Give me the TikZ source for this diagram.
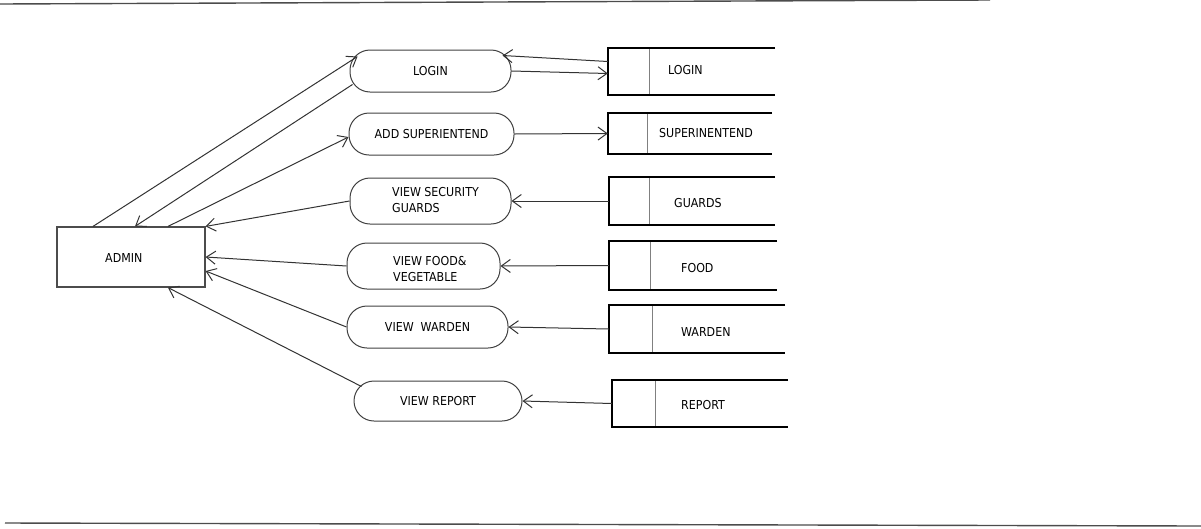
\documentclass[tikz,border=0pt]{standalone}
\usepackage{fontspec}
\setmainfont{DejaVu Sans Condensed}
\usetikzlibrary{arrows.meta,calc}
\tikzset{
  flow/.style={draw=black!80, line width=1pt, -{Straight Barb[length=9pt,width=13pt,line width=1pt]}},
  proc/.style={draw=black!75, line width=1pt, rounded corners=20pt, inner sep=0pt, align=left},
  entity/.style={draw=black!70, line width=1.2pt, inner sep=0pt},
  storebox/.style={inner sep=0pt},
  storeedge/.style={draw=black, line width=2pt},
  storediv/.style={draw=black!50, line width=1.2pt},
  lbl/.style={inner sep=0pt, anchor=west},
  rule/.style={draw=black!70, line width=1.4pt}
}
\begin{document}
\begin{tikzpicture}[x=1pt,y=-1pt,font=\fontsize{12.3}{16}\selectfont]
\useasboundingbox (0,0) rectangle (1201,528);
% page rules
\draw[rule] (0,4) -- (990,0);
\draw[rule] (5,523) -- (1201,526);

% external entity
\node[entity, minimum width=148pt, minimum height=60pt] (admin) at (131,257) {};
\node[lbl] (admintxt) at (105,258) {ADMIN};

% processes
\node[proc, minimum width=161pt, minimum height=42pt] (login) at (430.5,71) {LOGIN};
\node[proc, minimum width=165pt, minimum height=42pt] (addsup) at (431.5,134) {ADD SUPERIENTEND};
\node[proc, minimum width=161pt, minimum height=46pt] (viewsec) at (430.5,201) {};
\node[lbl, align=left] (viewsectxt) at (392,200.5) {VIEW SECURITY\\GUARDS};
\node[proc, minimum width=153pt, minimum height=46pt] (viewfood) at (423.5,266) {};
\node[lbl, align=left] (viewfoodtxt) at (393,269.5) {VIEW FOOD\&\\VEGETABLE};
\node[proc, minimum width=161pt, minimum height=42pt] (viewward) at (427.5,327) {VIEW\ \ WARDEN};
\node[proc, minimum width=168pt, minimum height=40pt] (viewrep) at (438,401) {VIEW REPORT};

% data stores
\node[storebox, minimum width=167pt, minimum height=47pt] (sLogin) at (691.5,71.5) {};
\node[storebox, minimum width=164pt, minimum height=41pt] (sSup) at (690,133.5) {};
\node[storebox, minimum width=166pt, minimum height=48pt] (sGuards) at (692,201) {};
\node[storebox, minimum width=168pt, minimum height=49pt] (sFood) at (693,265.5) {};
\node[storebox, minimum width=176pt, minimum height=48pt] (sWard) at (697,329) {};
\node[storebox, minimum width=176pt, minimum height=47pt] (sRep) at (700,403.5) {};

\foreach \s/\d in {sLogin/42, sSup/40, sGuards/41, sFood/42, sWard/44, sRep/44}{
  \draw[storediv] ([xshift=\d pt]\s.north west) -- ([xshift=\d pt]\s.south west);
  \draw[storeedge] (\s.north east) -- (\s.north west) -- (\s.south west) -- (\s.south east);
}

\node[lbl] (tLogin) at (668,70) {LOGIN};
\node[lbl] (tSup) at (659,133) {SUPERINENTEND};
\node[lbl] (tGuards) at (674,203) {GUARDS};
\node[lbl] (tFood) at (681,268) {FOOD};
\node[lbl] (tWard) at (681,332) {WARDEN};
\node[lbl] (tRep) at (681,405) {REPORT};

% flows admin <-> processes
\draw[flow] ([xshift=-38pt]admin.north) -- ([shift={(8,7)}]login.north west);
\draw[flow] ([shift={(3,-8)}]login.south west) -- ([xshift=4pt]admin.north);
\draw[flow] ([xshift=37pt]admin.north) -- ([shift={(0,3)}]addsup.west);
\draw[flow] (viewsec.west) -- (admin.north east);
\draw[flow] (viewfood.west) -- (admin.east);
\draw[flow] (viewward.west) -- ([shift={(0,14)}]admin.east);
\draw[flow] ([shift={(8,6)}]viewrep.north west) -- ([xshift=37pt]admin.south);

% flows processes <-> stores
\draw[flow] ([shift={(0,-10)}]sLogin.west) -- ([shift={(-9,6)}]login.north east);
\draw[flow] (login.east) -- ([shift={(0,2)}]sLogin.west);
\draw[flow] (addsup.east) -- (sSup.west);
\draw[flow] (sGuards.west) -- (viewsec.east);
\draw[flow] (sFood.west) -- (viewfood.east);
\draw[flow] (sWard.west) -- (viewward.east);
\draw[flow] (sRep.west) -- (viewrep.east);
\end{tikzpicture}
\end{document}
